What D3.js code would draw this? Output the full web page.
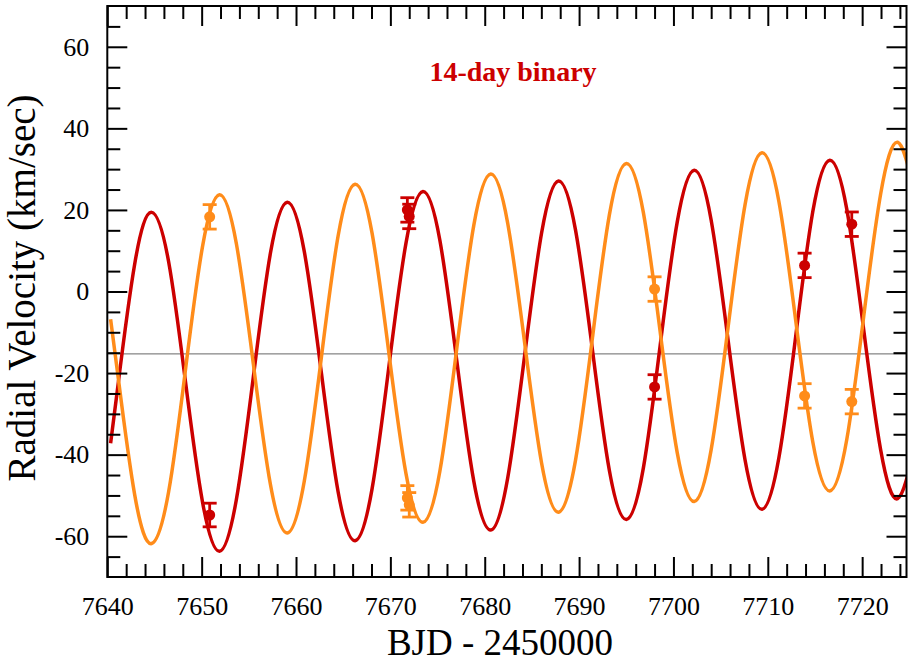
<!DOCTYPE html>
<html>
<head>
<meta charset="utf-8">
<script src="https://cdn.jsdelivr.net/npm/d3@7"></script>
<style>
  body { margin: 0; background: #fff; }
  svg { display: block; font-family: "Liberation Serif", "Times New Roman", serif; }
</style>
</head>
<body>
<div id="chart"></div>
<script>
// orbit fit, every 1/8 of the period
const fitDays = [7640.35, 7641.11, 7642.90, 7644.70, 7646.50, 7648.29, 7650.09, 7651.89,
  7653.68, 7655.48, 7657.28, 7659.07, 7660.87, 7662.67, 7664.46, 7666.26,
  7668.06, 7669.85, 7671.65, 7673.45, 7675.25, 7677.04, 7678.84, 7680.64,
  7682.43, 7684.23, 7686.03, 7687.82, 7689.62, 7691.42, 7693.21, 7695.01,
  7696.81, 7698.60, 7700.40, 7702.20, 7703.99, 7705.79, 7707.59, 7709.38,
  7711.18, 7712.98, 7714.77, 7716.57, 7718.37, 7720.16, 7721.96, 7723.76, 7725.55]
const fitPrimary = [-37.2, -23.4, 6.7, 19.4, 7.3, -22.2, -51.6, -63.7,
  -51.0, -20.9, 9.3, 21.9, 9.9, -19.6, -49.1, -61.1,
  -48.4, -18.3, 11.8, 24.5, 12.5, -17.0, -46.5, -58.5,
  -45.8, -15.7, 14.4, 27.1, 15.1, -14.4, -43.9, -55.9,
  -43.3, -13.1, 17.0, 29.7, 17.6, -11.9, -41.3, -53.4,
  -40.7, -10.6, 19.6, 32.2, 20.2, -9.3, -38.8, -50.8, -38.1]
const fitSecondary = [-6.8, -20.3, -49.8, -61.8, -49.1, -19.1, 11.0, 23.7,
  11.7, -17.8, -47.2, -59.2, -46.6, -16.5, 13.6, 26.3,
  14.3, -15.2, -44.6, -56.6, -44.0, -13.9, 16.2, 28.8,
  16.8, -12.6, -42.1, -54.1, -41.4, -11.3, 18.8, 31.4,
  19.4, -10.0, -39.5, -51.5, -38.9, -8.8, 21.3, 34.0,
  22.0, -7.5, -36.9, -48.9, -36.3, -6.2, 23.9, 36.6, 24.6]

// measured velocities
const obsDays = [7650.85, 7671.8, 7672.0, 7698.0, 7713.9, 7718.9]
const obsPrimary = [-54.8, 20.0, 18.4, -23.4, 6.4, 16.5]
const obsPrimaryErr = [2.9, 3.0, 3.0, 3.0, 3.0, 3.0]
const obsSecondary = [18.3, -50.6, -52.3, 0.6, -25.6, -27.0]
const obsSecondaryErr = [3.0, 3.0, 3.0, 3.0, 3.0, 3.0]

const systemicVelocity = -15.3
const xTicks = [7640, 7650, 7660, 7670, 7680, 7690, 7700, 7710, 7720]
const yTicks = [-60, -40, -20, 0, 20, 40, 60]
const titleText = "14-day binary"
const xTitle = "BJD - 2450000"
const yTitle = "Radial Velocity (km/sec)"

const primaryColor = "#cc0000"
const secondaryColor = "#ff8c1a"

const width = 914
const height = 664
const margin = {top: 6, right: 7.5, bottom: 87, left: 107.3}

const svg = d3.select("#chart").append("svg")
  .attr("width", width)
  .attr("height", height)

const x = d3.scaleLinear()
  .domain([7640, 7724.7])
  .range([margin.left, width - margin.right])
const y = d3.scaleLinear()
  .domain([-70, 70])
  .range([height - margin.bottom, margin.top])

svg.append("clipPath").attr("id", "plot-clip")
  .append("rect")
  .attr("x", margin.left)
  .attr("y", margin.top)
  .attr("width", width - margin.left - margin.right)
  .attr("height", height - margin.top - margin.bottom)

const plot = svg.append("g").attr("clip-path", "url(#plot-clip)")

// systemic velocity
plot.append("line")
  .attr("x1", margin.left)
  .attr("x2", width - margin.right)
  .attr("y1", y(systemicVelocity))
  .attr("y2", y(systemicVelocity))
  .attr("stroke", "#666")
  .attr("stroke-width", 1)

const fitLine = d3.line()
  .x((d, i) => x(fitDays[i]))
  .y(d => y(d))
  .curve(d3.curveNatural)

plot.append("path")
  .datum(fitPrimary)
  .attr("fill", "none")
  .attr("stroke", primaryColor)
  .attr("stroke-width", 3.5)
  .attr("d", fitLine)

plot.append("path")
  .datum(fitSecondary)
  .attr("fill", "none")
  .attr("stroke", secondaryColor)
  .attr("stroke-width", 3.5)
  .attr("d", fitLine)

function drawPoints(values, errors, color) {
  const pts = obsDays.map((t, i) => ({t: t, v: values[i], e: errors[i]}))
  const g = svg.append("g")
    .selectAll("g")
    .data(pts)
    .enter().append("g")
    .attr("stroke", color)
    .attr("fill", color)
    .attr("stroke-width", 2.8)

  g.append("line")
    .attr("x1", d => x(d.t)).attr("x2", d => x(d.t))
    .attr("y1", d => y(d.v - d.e)).attr("y2", d => y(d.v + d.e))
  g.append("line")
    .attr("x1", d => x(d.t) - 7).attr("x2", d => x(d.t) + 7)
    .attr("y1", d => y(d.v + d.e)).attr("y2", d => y(d.v + d.e))
  g.append("line")
    .attr("x1", d => x(d.t) - 7).attr("x2", d => x(d.t) + 7)
    .attr("y1", d => y(d.v - d.e)).attr("y2", d => y(d.v - d.e))
  g.append("circle")
    .attr("cx", d => x(d.t))
    .attr("cy", d => y(d.v))
    .attr("r", 5.5)
    .attr("stroke", "none")
}

drawPoints(obsSecondary, obsSecondaryErr, secondaryColor)
drawPoints(obsPrimary, obsPrimaryErr, primaryColor)

// axes, ticks drawn inward on all four sides
const xMinor = d3.range(7640, 7725, 2).filter(d => !xTicks.includes(d))
const yMinor = d3.range(-65, 70, 5).filter(d => !yTicks.includes(d))
const bottom = height - margin.bottom
const right = width - margin.right
const plainNumber = d => String(d)  // keep the ASCII hyphen for negatives

function styleAxis(g) {
  g.select(".domain").remove()
  g.selectAll(".tick line").attr("stroke", "#000").attr("stroke-width", 2)
  g.selectAll(".tick text").attr("fill", "#000").style("font-size", "26px")
    .style("font-family", "'Liberation Serif', 'Times New Roman', serif")
}

svg.append("g")
  .attr("transform", `translate(0,${bottom})`)
  .call(d3.axisBottom(x).tickValues(xTicks).tickSize(-20).tickPadding(20).tickFormat(plainNumber))
  .call(styleAxis)
svg.append("g")
  .attr("transform", `translate(0,${bottom})`)
  .call(d3.axisBottom(x).tickValues(xMinor).tickSize(-13).tickFormat(""))
  .call(styleAxis)
svg.append("g")
  .attr("transform", `translate(0,${margin.top})`)
  .call(d3.axisTop(x).tickValues(xTicks).tickSize(-20).tickFormat(""))
  .call(styleAxis)
svg.append("g")
  .attr("transform", `translate(0,${margin.top})`)
  .call(d3.axisTop(x).tickValues(xMinor).tickSize(-13).tickFormat(""))
  .call(styleAxis)

svg.append("g")
  .attr("transform", `translate(${margin.left},0)`)
  .call(d3.axisLeft(y).tickValues(yTicks).tickSize(-20).tickPadding(18).tickFormat(plainNumber))
  .call(styleAxis)
svg.append("g")
  .attr("transform", `translate(${margin.left},0)`)
  .call(d3.axisLeft(y).tickValues(yMinor).tickSize(-13).tickFormat(""))
  .call(styleAxis)
svg.append("g")
  .attr("transform", `translate(${right},0)`)
  .call(d3.axisRight(y).tickValues(yTicks).tickSize(-20).tickFormat(""))
  .call(styleAxis)
svg.append("g")
  .attr("transform", `translate(${right},0)`)
  .call(d3.axisRight(y).tickValues(yMinor).tickSize(-13).tickFormat(""))
  .call(styleAxis)

// frame
svg.append("rect")
  .attr("x", margin.left)
  .attr("y", margin.top)
  .attr("width", right - margin.left)
  .attr("height", bottom - margin.top)
  .attr("fill", "none")
  .attr("stroke", "#000")
  .attr("stroke-width", 2)

// titles
svg.append("text")
  .attr("x", 500)
  .attr("y", 655)
  .attr("text-anchor", "middle")
  .style("font-size", "37px")
  .text(xTitle)

svg.append("text")
  .attr("transform", "translate(35,288) rotate(-90)")
  .attr("text-anchor", "middle")
  .style("font-size", "39px")
  .text(yTitle)

svg.append("text")
  .attr("x", 513)
  .attr("y", 81)
  .attr("text-anchor", "middle")
  .attr("fill", primaryColor)
  .style("font-size", "28px")
  .style("font-weight", "bold")
  .text(titleText)
</script>
</body>
</html>
